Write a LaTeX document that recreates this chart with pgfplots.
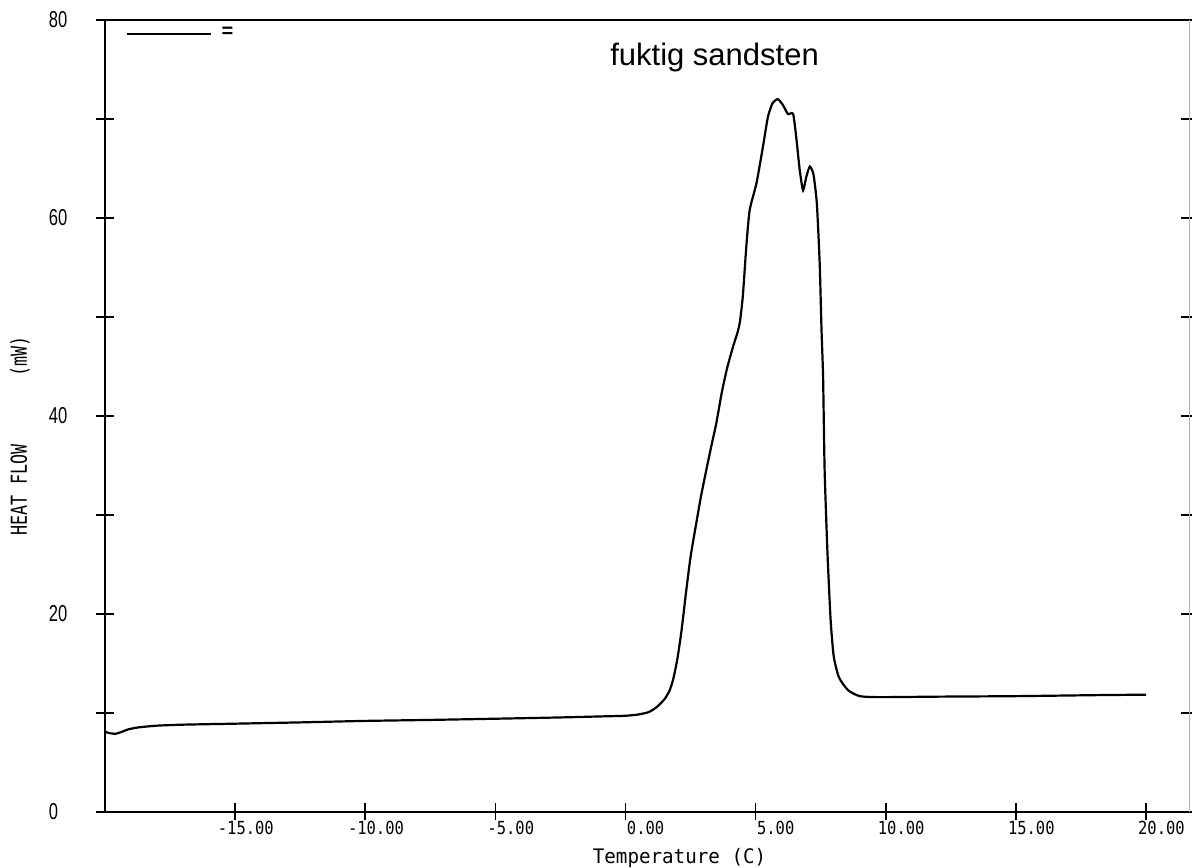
\documentclass[border=0pt]{standalone}
\usepackage{pgfplots}
\pgfplotsset{compat=1.18}
\usepackage{fontspec}
\setmainfont{Liberation Sans}
\newfontfamily\tickmono[FakeStretch=0.86]{DejaVu Sans Mono}
\newfontfamily\labmono[FakeStretch=0.76]{DejaVu Sans Mono}
\newfontfamily\xlabmono[FakeStretch=0.96]{DejaVu Sans Mono}
\newfontfamily\ynum[FakeStretch=0.72]{Liberation Sans}

\pgfplotstableread{
x y
-20.0 8.1
-19.8 7.95
-19.6 7.9
-19.4 8.05
-19.1 8.35
-18.7 8.55
-18.0 8.72
-17.0 8.82
-15.0 8.92
-12.5 9.05
-10.0 9.2
-7.5 9.3
-5.0 9.42
-2.5 9.55
-1.0 9.65
0.0 9.72
0.5 9.85
0.9 10.1
1.2 10.6
1.5 11.4
1.7 12.3
1.85 13.6
2.0 15.6
2.15 18.3
2.33 22.3
2.5 25.8
2.72 29.2
2.9 31.9
3.1 34.5
3.3 37.0
3.49 39.3
3.7 42.4
3.9 44.8
4.13 47.0
4.3 48.4
4.4 49.6
4.51 52.2
4.64 57.1
4.77 60.8
5.03 63.5
5.28 67.2
5.47 70.2
5.65 71.6
5.85 72.0
6.05 71.4
6.24 70.5
6.44 70.5
6.57 67.9
6.69 64.9
6.82 62.8
6.95 64.2
7.08 65.2
7.22 64.4
7.35 61.5
7.46 55.4
7.53 48.7
7.59 44.0
7.65 34.5
7.76 26.1
7.88 19.4
8.0 15.7
8.2 13.6
8.55 12.3
9.0 11.7
9.77 11.6
12.0 11.65
15.0 11.7
18.0 11.8
20.0 11.85
}\heatdata

\begin{document}
\begin{tikzpicture}
\begin{axis}[
  name=ax,
  scale only axis,
  width=542pt, height=396pt,
  xmin=-20, xmax=21.65,
  ymin=0, ymax=80,
  clip=false,
  axis line style={draw=none},
  xtick={-15,-10,...,20},
  xticklabels={{\llap{-1}5.00},{\llap{-1}0.00},{\llap{-}5.00},{0.00},{5.00},{\llap{1}0.00},{\llap{1}5.00},{\llap{2}0.00}},
  xtick pos=bottom,
  ytick={0,10,...,80},
  yticklabels={0,,20,,40,,60,,80},
  ytick pos=both,
  tick align=center,
  major tick length=8.5pt,
  tick style={black, line width=0.8pt},
  xticklabel style={font=\tickmono\fontsize{9}{9}\selectfont, anchor=north west, inner sep=0pt, xshift=0.5pt},
  yticklabel style={font=\ynum\fontsize{11.5}{11.5}\selectfont, anchor=west, inner sep=0pt, xshift=-24pt},
  xlabel={Temperature (C)},
  xlabel style={font=\xlabmono\fontsize{10}{10}\selectfont, at={(axis description cs:0.53,-0.058)}, anchor=center},
  ylabel={HEAT FLOW\hspace{34pt}(mW)},
  ylabel style={font=\labmono\fontsize{11}{11}\selectfont, at={(axis description cs:-0.0785,0.475)}, anchor=center, rotate=0},
  legend style={draw=none, fill=none, at={(axis description cs:0.019,0.982)}, anchor=west, inner sep=0pt, font=\bfseries\fontsize{10}{10}\selectfont},
  legend image code/.code={\draw[black, line width=0.8pt] (0pt,0pt) -- (42pt,0pt);},
]
\addplot[black, line width=1.1pt, smooth, tension=0.35] table[x=x, y=y] {\heatdata};
\addlegendentry{\hspace{3pt}=}
\node[font=\fontsize{15.5}{15.5}\selectfont] at (axis cs:3.42,76.2) {fuktig sandsten};
\end{axis}
\draw[black, line width=1.1pt] (ax.north east) -- (ax.north west) -- (ax.south west) -- (ax.south east);
\draw[black!30, line width=0.5pt] (ax.south east) -- (ax.north east);
\pgfresetboundingbox
\path ([shift={(-52.5pt,-28pt)}]ax.south west) rectangle ([shift={(1.5pt,10pt)}]ax.north east);
\end{tikzpicture}
\end{document}
